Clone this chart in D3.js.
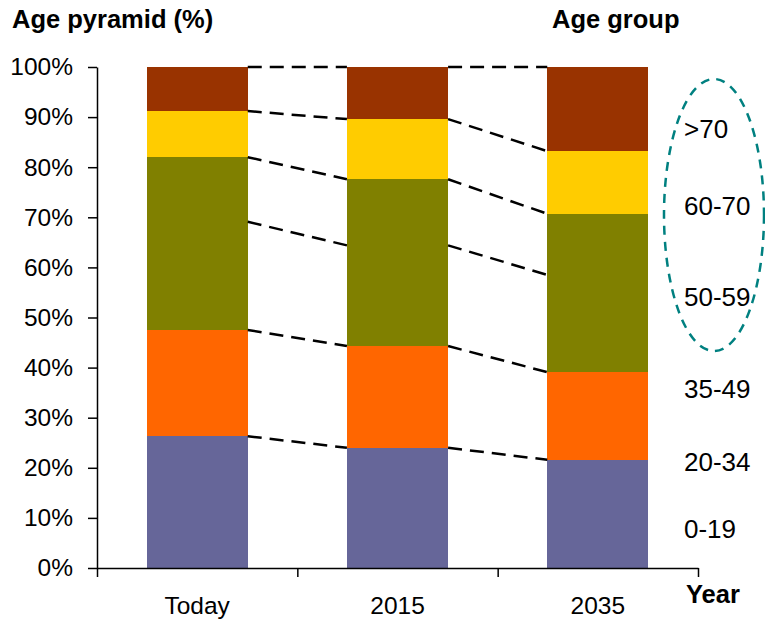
<!DOCTYPE html>
<html>
<head>
<meta charset="utf-8">
<script src="https://cdn.jsdelivr.net/npm/d3@7"></script>
<style>
    body { margin: 0; background: #fff; }
    svg text { font-family: Arial, "Liberation Sans", sans-serif; fill: #000; }
    .axis path, .axis line { stroke: #000; stroke-width: 1.5; }
    .axis text { font-size: 24.5px; }
</style>
</head>
<body>
<div id="chart"></div>
<script>
// categories and series (percent of population)
const categories = ["Today", "2015", "2035"];
const ageGroups = ["0-19", "20-34", "35-49", "50-59", "60-70", ">70"];
const v0to19 = [26.3, 24.0, 21.6];
const v20to34 = [21.2, 20.3, 17.5];
const v35to49 = [21.6, 20.1, 19.4];
const v50to59 = [12.9, 13.2, 12.2];
const v60to70 = [9.2, 12.0, 12.5];
const v70plus = [8.8, 10.4, 16.8];
const yTicks = [0, 10, 20, 30, 40, 50, 60, 70, 80, 90, 100];

const colors = ["#666699", "#FF6600", "#808000", "#808000", "#FFCC00", "#993300"];
// where the age-group labels sit, in axis units
const labelAt = [7.8, 21.2, 35.7, 54.1, 72.3, 87.6];

const width = 765, height = 619;
const margin = { left: 97, right: 67, top: 67, bottom: 51 };

const table = categories.map(function (c, i) {
    return {
        cat: c,
        "0-19": v0to19[i], "20-34": v20to34[i], "35-49": v35to49[i],
        "50-59": v50to59[i], "60-70": v60to70[i], ">70": v70plus[i]
    };
});
const stacked = d3.stack().keys(ageGroups)(table);

const svg = d3.select("#chart").append("svg")
    .attr("width", width)
    .attr("height", height);

const xGroup = d3.scaleBand()
    .domain(categories)
    .range([margin.left, width - margin.right])
    .padding(0);
const barWidth = xGroup.bandwidth() * 0.505;
const barX = function (c) { return xGroup(c) + (xGroup.bandwidth() - barWidth) / 2; };

const yScale = d3.scaleLinear()
    .domain([0, 100])
    .range([height - margin.bottom, margin.top]);

// bars
svg.append("g").selectAll("g")
    .data(stacked)
    .join("g")
    .attr("fill", function (d, i) { return colors[i]; })
    .selectAll("rect")
    .data(function (d) { return d; })
    .join("rect")
    .attr("shape-rendering", "crispEdges")
    .attr("x", function (d) { return barX(d.data.cat); })
    .attr("width", barWidth)
    .attr("y", function (d) { return yScale(d[1]); })
    .attr("height", function (d) { return yScale(d[0]) - yScale(d[1]); });

// dashed connectors between the tops of each segment
const links = [];
stacked.forEach(function (s) {
    for (let i = 0; i < categories.length - 1; i++) {
        links.push({ a: categories[i], b: categories[i + 1], ya: s[i][1], yb: s[i + 1][1] });
    }
});
svg.append("g").selectAll("line")
    .data(links)
    .join("line")
    .attr("x1", function (d) { return barX(d.a) + barWidth; })
    .attr("x2", function (d) { return barX(d.b); })
    .attr("y1", function (d) { return yScale(d.ya); })
    .attr("y2", function (d) { return yScale(d.yb); })
    .attr("stroke", "#000")
    .attr("stroke-width", 2.5)
    .attr("stroke-dasharray", "14,8");

// y axis
const yAxis = d3.axisLeft(yScale)
    .tickValues(yTicks)
    .tickFormat(function (d) { return d + "%"; })
    .tickSize(9)
    .tickSizeOuter(0)
    .tickPadding(15);
svg.append("g")
    .attr("class", "axis")
    .attr("transform", "translate(" + margin.left + ",0)")
    .call(yAxis);

// x axis: ticks between groups, labels centered
const xEdges = d3.scaleLinear()
    .domain([0, categories.length])
    .range([margin.left, width - margin.right]);
svg.append("g")
    .attr("class", "axis")
    .attr("transform", "translate(0," + yScale(0) + ")")
    .call(d3.axisBottom(xEdges).ticks(categories.length).tickFormat("").tickSize(9).tickSizeOuter(0));

const xLabels = svg.append("g")
    .attr("class", "axis")
    .attr("transform", "translate(0," + yScale(0) + ")")
    .call(d3.axisBottom(xGroup).tickSize(0).tickPadding(29));
xLabels.select(".domain").remove();

// age group labels
svg.append("g").selectAll("text")
    .data(ageGroups)
    .join("text")
    .attr("x", 684)
    .attr("y", function (d, i) { return yScale(labelAt[i]); })
    .attr("dy", "0.35em")
    .style("font-size", "26px")
    .text(function (d) { return d; });

// highlight ellipse around the older groups
svg.append("ellipse")
    .attr("cx", 714)
    .attr("cy", 215)
    .attr("rx", 50)
    .attr("ry", 136)
    .attr("fill", "none")
    .attr("stroke", "#008080")
    .attr("stroke-width", 2.5)
    .attr("stroke-dasharray", "9,7");

// titles
svg.append("text").attr("x", 12).attr("y", 28)
    .style("font-size", "25.5px").style("font-weight", "bold")
    .text("Age pyramid (%)");
svg.append("text").attr("x", 552).attr("y", 28)
    .style("font-size", "25.5px").style("font-weight", "bold")
    .text("Age group");
svg.append("text").attr("x", 686).attr("y", 603)
    .style("font-size", "25.5px").style("font-weight", "bold")
    .text("Year");
</script>
</body>
</html>
